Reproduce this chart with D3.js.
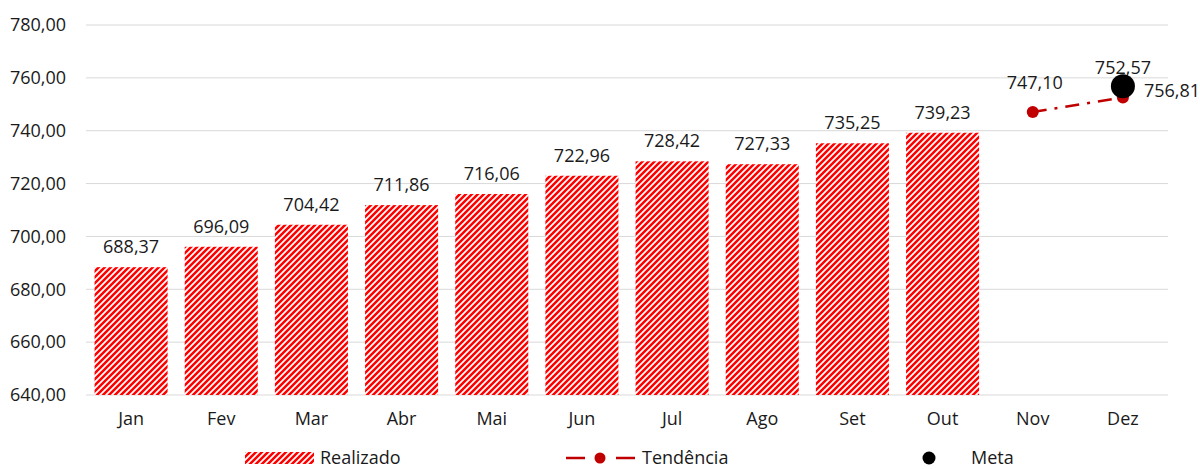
<!DOCTYPE html>
<html>
<head>
<meta charset="utf-8">
<script src="https://cdn.jsdelivr.net/npm/d3@7"></script>
<style>
  body { margin: 0; background: #fff; }
  svg { display: block; font-family: "Open Sans", sans-serif; }
</style>
</head>
<body>
<script>
// chart data
const months = ["Jan", "Fev", "Mar", "Abr", "Mai", "Jun", "Jul", "Ago", "Set", "Out", "Nov", "Dez"];
const realizado = [688.37, 696.09, 704.42, 711.86, 716.06, 722.96, 728.42, 727.33, 735.25, 739.23];
const tendenciaMonths = ["Nov", "Dez"];
const tendencia = [747.10, 752.57];
const metaMonth = "Dez";
const meta = 756.81;
const yTicks = [640, 660, 680, 700, 720, 740, 760, 780];

const width = 1200;
const height = 469;
const margin = { top: 25, right: 32, bottom: 74, left: 86 };
const fs = 18;

const fmt = (v) => d3.format(".2f")(v).replace(".", ",");

const svg = d3.select("body").append("svg").attr("width", width).attr("height", height);

// stripes for the bars
const defs = svg.append("defs");
const pat = defs.append("pattern")
  .attr("id", "stripes")
  .attr("patternUnits", "userSpaceOnUse")
  .attr("width", 6)
  .attr("height", 6);
pat.append("rect").attr("width", 6).attr("height", 6).attr("fill", "#fff");
pat.append("path")
  .attr("d", "M-1.5,1.5 L1.5,-1.5 M0,6 L6,0 M4.5,7.5 L7.5,4.5")
  .attr("stroke", "#ff0000")
  .attr("stroke-width", 2.5);

const xScale = d3.scaleBand()
  .domain(months)
  .range([margin.left, width - margin.right])
  .paddingInner(0.19)
  .paddingOuter(0.095);

const yScale = d3.scaleLinear()
  .domain([640, 780])
  .range([height - margin.bottom, margin.top]);

// gridlines
svg.append("g")
  .selectAll("line")
  .data(yTicks)
  .enter()
  .append("line")
  .attr("x1", margin.left)
  .attr("x2", width - margin.right)
  .attr("y1", (d) => yScale(d))
  .attr("y2", (d) => yScale(d))
  .attr("stroke", "#d9d9d9")
  .attr("stroke-width", 1);

// y axis labels
const yAxis = d3.axisLeft(yScale).tickValues(yTicks).tickFormat(fmt).tickSize(0).tickPadding(20);
svg.append("g")
  .attr("transform", "translate(" + margin.left + ",0)")
  .call(yAxis)
  .call((g) => g.select(".domain").remove())
  .selectAll("text")
  .attr("font-size", fs)
  .attr("font-family", "Open Sans, sans-serif")
  .attr("fill", "#1a1a1a");

// x axis labels
const xAxis = d3.axisBottom(xScale).tickSize(0).tickPadding(17);
svg.append("g")
  .attr("transform", "translate(0," + (height - margin.bottom) + ")")
  .call(xAxis)
  .call((g) => g.select(".domain").remove())
  .selectAll("text")
  .attr("font-size", fs)
  .attr("font-family", "Open Sans, sans-serif")
  .attr("fill", "#1a1a1a");

// bars
svg.append("g")
  .selectAll("rect")
  .data(realizado)
  .enter()
  .append("rect")
  .attr("x", (d, i) => xScale(months[i]))
  .attr("width", xScale.bandwidth())
  .attr("y", (d) => yScale(d))
  .attr("height", (d) => yScale(640) - yScale(d))
  .attr("fill", "url(#stripes)");

svg.append("g")
  .selectAll("text")
  .data(realizado)
  .enter()
  .append("text")
  .attr("x", (d, i) => xScale(months[i]) + xScale.bandwidth() / 2)
  .attr("y", (d) => yScale(d) - 14)
  .attr("text-anchor", "middle")
  .attr("font-size", fs)
  .attr("fill", "#1a1a1a")
  .text((d) => fmt(d));

// trend line
const cx = (m) => xScale(m) + xScale.bandwidth() / 2;
const line = d3.line()
  .x((d, i) => cx(tendenciaMonths[i]))
  .y((d) => yScale(d));

svg.append("path")
  .datum(tendencia)
  .attr("d", line)
  .attr("fill", "none")
  .attr("stroke", "#c00000")
  .attr("stroke-width", 2.5)
  .attr("stroke-dasharray", "14,8,3,8");

svg.append("g")
  .selectAll("circle")
  .data(tendencia)
  .enter()
  .append("circle")
  .attr("cx", (d, i) => cx(tendenciaMonths[i]))
  .attr("cy", (d) => yScale(d))
  .attr("r", 6)
  .attr("fill", "#c00000");

svg.append("g")
  .selectAll("text")
  .data(tendencia)
  .enter()
  .append("text")
  .attr("x", (d, i) => cx(tendenciaMonths[i]) + (i === 0 ? 2 : 0))
  .attr("y", (d) => yScale(d) - 23)
  .attr("text-anchor", "middle")
  .attr("font-size", fs)
  .attr("fill", "#1a1a1a")
  .text((d) => fmt(d));

// meta
svg.append("circle")
  .attr("cx", cx(metaMonth))
  .attr("cy", yScale(meta))
  .attr("r", 12)
  .attr("fill", "#000");

svg.append("text")
  .attr("x", cx(metaMonth) + 21)
  .attr("y", yScale(meta) + 11)
  .attr("font-size", fs)
  .attr("fill", "#1a1a1a")
  .text(fmt(meta));

// legend
const legend = svg.append("g").attr("font-size", fs).attr("fill", "#1a1a1a");
const ly = 458;

legend.append("rect")
  .attr("x", 245).attr("y", ly - 6).attr("width", 69).attr("height", 12)
  .attr("fill", "url(#stripes)");
legend.append("text").attr("x", 320).attr("y", ly + 5.5).text("Realizado");

legend.append("line")
  .attr("x1", 566).attr("x2", 585).attr("y1", ly).attr("y2", ly)
  .attr("stroke", "#c00000").attr("stroke-width", 2.5);
legend.append("line")
  .attr("x1", 616).attr("x2", 635).attr("y1", ly).attr("y2", ly)
  .attr("stroke", "#c00000").attr("stroke-width", 2.5);
legend.append("circle").attr("cx", 600).attr("cy", ly).attr("r", 5.5).attr("fill", "#c00000");
legend.append("text").attr("x", 642).attr("y", ly + 5.5).text("Tendência");

legend.append("circle").attr("cx", 929).attr("cy", ly).attr("r", 6.5).attr("fill", "#000");
legend.append("text").attr("x", 971).attr("y", ly + 5.5).text("Meta");
</script>
</body>
</html>
